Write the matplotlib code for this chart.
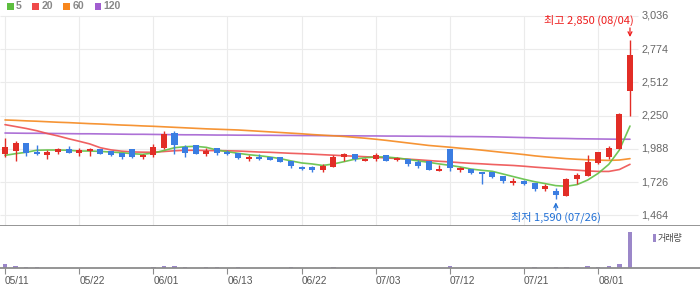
import matplotlib
matplotlib.use('Agg')
import matplotlib.pyplot as plt
from matplotlib.patches import Rectangle

# ---------------- data ----------------
dates = ['05/11', '05/12', '05/15', '05/16', '05/17', '05/18', '05/19', '05/22', '05/23', '05/24',
         '05/25', '05/26', '05/30', '05/31', '06/01', '06/02', '06/05', '06/07', '06/08', '06/09',
         '06/12', '06/13', '06/14', '06/15', '06/16', '06/19', '06/20', '06/21', '06/22', '06/23',
         '06/26', '06/27', '06/28', '06/29', '06/30', '07/03', '07/04', '07/05', '07/06', '07/07',
         '07/10', '07/11', '07/12', '07/13', '07/14', '07/17', '07/18', '07/19', '07/20', '07/21',
         '07/24', '07/25', '07/26', '07/27', '07/28', '07/31', '08/01', '08/02', '08/03', '08/04']

opens = [1950, 1974, 2034, 1961, 1942, 1961, 1987, 1958, 1974, 1987,
         1971, 1955, 1987, 1926, 1942, 1995, 2113, 2003, 2019, 1950,
         1995, 1966, 1955, 1911, 1926, 1926, 1924, 1895, 1848, 1848,
         1824, 1848, 1924, 1948, 1895, 1911, 1940, 1903, 1911, 1887,
         1895, 1816, 1987, 1824, 1832, 1808, 1808, 1777, 1722, 1737,
         1722, 1674, 1658, 1619, 1753, 1777, 1879, 1926, 1990, 2447]
highs = [2074, 2052, 2034, 2019, 1977, 1995, 2011, 1993, 1993, 1987,
         1971, 1955, 1987, 1950, 2026, 2129, 2129, 2019, 2019, 1993,
         1995, 1979, 1955, 1942, 1947, 1926, 1924, 1895, 1853, 1855,
         1869, 1940, 1955, 1948, 1918, 1955, 1940, 1924, 1911, 1900,
         1895, 1861, 1987, 1848, 1832, 1808, 1808, 1777, 1756, 1745,
         1722, 1714, 1682, 1761, 1795, 1942, 1961, 2011, 2270, 2850]
lows = [1926, 1895, 1934, 1942, 1911, 1950, 1958, 1932, 1932, 1950,
        1934, 1911, 1918, 1911, 1926, 1990, 1950, 1926, 1950, 1934,
        1942, 1942, 1911, 1895, 1903, 1899, 1887, 1840, 1819, 1808,
        1808, 1845, 1895, 1895, 1895, 1895, 1895, 1895, 1855, 1840,
        1824, 1816, 1816, 1808, 1790, 1711, 1761, 1722, 1706, 1706,
        1658, 1658, 1590, 1619, 1709, 1777, 1866, 1911, 1990, 2251]
closes = [2003, 2034, 1955, 1948, 1963, 1987, 1958, 1979, 1987, 1950,
          1942, 1922, 1926, 1942, 1999, 2105, 2016, 1958, 1950, 1974,
          1958, 1948, 1918, 1926, 1911, 1903, 1887, 1851, 1832, 1824,
          1853, 1924, 1948, 1911, 1911, 1940, 1895, 1918, 1871, 1855,
          1824, 1832, 1840, 1840, 1800, 1792, 1769, 1737, 1737, 1714,
          1674, 1698, 1627, 1753, 1780, 1887, 1961, 1995, 2263, 2728]
volumes = [43, 23, 13, 13, 1, 1, 1, 1, 1, 1,
           1, 1, 1, 1, 13, 23, 23, 13, 2, 13,
           13, 2, 13, 2, 2, 2, 2, 13, 2, 2,
           2, 13, 2, 2, 2, 2, 2, 2, 2, 2,
           2, 2, 27, 2, 2, 2, 2, 2, 2, 2,
           13, 2, 13, 13, 2, 27, 13, 27, 47, 363]

ma5 = [1937, 1950, 1961, 1977, 1979, 1979, 1977, 1971, 1971, 1968,
       1963, 1958, 1950, 1945, 1955, 1975, 1997, 2005, 2008, 2000,
       1979, 1966, 1953, 1942, 1934, 1924, 1911, 1893, 1877, 1869,
       1857, 1869, 1887, 1906, 1918, 1924, 1924, 1916, 1906, 1893,
       1882, 1869, 1858, 1845, 1829, 1819, 1811, 1790, 1769, 1748,
       1729, 1714, 1698, 1693, 1706, 1742, 1795, 1866, 1979, 2168]
ma20 = [2179, 2164, 2149, 2131, 2109, 2090, 2068, 2048, 2027, 1997,
        1980, 1970, 1964, 1962, 1961, 1967, 1973, 1977, 1977, 1975,
        1974, 1973, 1971, 1967, 1963, 1961, 1957, 1953, 1950, 1946,
        1942, 1938, 1934, 1930, 1926, 1922, 1916, 1912, 1907, 1902,
        1896, 1890, 1885, 1879, 1874, 1870, 1865, 1861, 1857, 1851,
        1844, 1838, 1832, 1825, 1820, 1814, 1810, 1810, 1825, 1866]
ma60 = [2216, 2213, 2209, 2206, 2202, 2198, 2195, 2191, 2187, 2184,
        2180, 2176, 2173, 2169, 2166, 2162, 2158, 2154, 2150, 2146,
        2143, 2140, 2137, 2132, 2127, 2122, 2117, 2112, 2107, 2101,
        2096, 2091, 2086, 2079, 2072, 2064, 2055, 2045, 2035, 2025,
        2015, 2008, 2001, 1993, 1986, 1978, 1969, 1960, 1952, 1943,
        1933, 1925, 1918, 1911, 1906, 1902, 1899, 1897, 1900, 1911]
ma120 = [2113, 2112, 2111, 2111, 2110, 2109, 2108, 2107, 2107, 2106,
         2105, 2104, 2103, 2103, 2102, 2101, 2100, 2099, 2099, 2098,
         2097, 2097, 2096, 2096, 2095, 2095, 2094, 2094, 2093, 2093,
         2092, 2092, 2091, 2091, 2090, 2090, 2089, 2089, 2088, 2088,
         2087, 2087, 2086, 2085, 2085, 2084, 2083, 2081, 2079, 2077,
         2075, 2072, 2071, 2070, 2068, 2067, 2066, 2065, 2064, 2064]

price_ticks = [1464, 1726, 1988, 2250, 2512, 2774, 3036]
tick_step = 7
legend_labels = ['5', '20', '60', '120']
high_label = '최고 2,850 (08/04)'
low_label = '최저 1,590 (07/26)'
volume_label = '거래량'
high_idx, high_val = 59, 2850
low_idx, low_val = 52, 1590

# ---------------- style ----------------
W, H = 700, 289
UP = '#e22d26'
DOWN = '#3a7de2'
MA_COLORS = ['#62c045', '#ee5050', '#f5891f', '#a462d2']
LEG_COLORS = ['#5dbe3f', '#ef4a4a', '#f7861c', '#a15dd0']
GRID = '#ebebeb'
AXIS = '#8c8c8c'
VOL = '#9b87c9'
CJK = ['Noto Sans CJK KR', 'DejaVu Sans']

fig = plt.figure(figsize=(W / 100, H / 100), dpi=100)

def fx(px):
    return px / W

def fy(py):
    return 1 - py / H

n = len(dates)
x = list(range(n))
xl = (-0.472, 65.61)

# price panel: from y=16px to y=225.7px
ax = fig.add_axes([0, fy(225.7), 1, (225.7 - 16) / H])
ax.set_xlim(*xl)
ax.set_ylim(1382, 3036)
ax.set_xticks([])
ax.set_yticks([])
for s in ['top', 'left', 'right']:
    ax.spines[s].set_visible(False)
ax.spines['bottom'].set_color(AXIS)
ax.spines['bottom'].set_linewidth(1.3)
ax.spines['bottom'].set_zorder(10)

tick_idx = list(range(0, n, tick_step))
ax.hlines(price_ticks, xl[0], 59.76, color=GRID, lw=0.8, zorder=0, clip_on=False)
ax.vlines(tick_idx, 1382, 3036, color=GRID, lw=0.8, zorder=0, clip_on=False)

for v in price_ticks:
    ax.text(60.05, v, f'{v:,}', ha='left', va='center', fontsize=7.8,
            color='#666666', family='Liberation Sans', clip_on=False)

# moving averages (drawn behind candles)
for series, col in zip([ma120, ma60, ma20, ma5], MA_COLORS[::-1]):
    ax.plot(x, series, color=col, lw=1.2, zorder=2, alpha=0.9, solid_capstyle='round')

# candles
for i in range(n):
    o, h, l, c = opens[i], highs[i], lows[i], closes[i]
    col = UP if c >= o else DOWN
    ax.vlines(i, l, h, color=col, lw=1.0, zorder=3)
    bottom = min(o, c)
    height = max(abs(c - o), 8)
    ax.bar(i, height, bottom=bottom, width=0.57, color=col, zorder=4, linewidth=0)

# high / low annotations
RED_T = '#ee1c1c'
BLUE_T = '#1f6fd6'
ax.annotate('', xy=(high_idx, high_val + 20), xytext=(high_idx, 2942),
            arrowprops=dict(arrowstyle='->', color=RED_T, lw=0.9, shrinkA=0, shrinkB=0,
                            mutation_scale=7), annotation_clip=False, zorder=6)
ax.text(59.38, 2999, high_label, ha='right', va='center', fontsize=8,
        color=RED_T, family=CJK, clip_on=False)
ax.annotate('', xy=(low_idx, low_val - 24), xytext=(low_idx, 1503),
            arrowprops=dict(arrowstyle='->', color=BLUE_T, lw=0.9, shrinkA=0, shrinkB=0,
                            mutation_scale=7), annotation_clip=False, zorder=6)
ax.text(low_idx + 0.05, 1448, low_label, ha='center', va='center', fontsize=8,
        color=BLUE_T, family=CJK, clip_on=False)

# volume panel: from y=225.7px to y=268.3px
vax = fig.add_axes([0, fy(268.3), 1, (268.3 - 225.7) / H])
vax.set_xlim(*xl)
vax.set_ylim(0, 426)
vax.bar(x, volumes, width=0.42, color=VOL, linewidth=0)
vax.set_yticks([])
for s in ['top', 'left', 'right']:
    vax.spines[s].set_visible(False)
vax.spines['bottom'].set_color(AXIS)
vax.spines['bottom'].set_linewidth(1.3)
vax.set_xticks(tick_idx)
vax.set_xticklabels([dates[i] for i in tick_idx], family='Liberation Sans')
vax.tick_params(axis='x', length=4, width=0.8, color=AXIS, pad=1.5,
                labelsize=7.3, labelcolor='#555555')
for lbl in vax.get_xticklabels():
    lbl.set_horizontalalignment('left')

# volume legend
fig.add_artist(Rectangle((fx(652.7), fy(241.5)), fx(3), 7.5 / H, transform=fig.transFigure,
                         color=VOL, linewidth=0))
fig.text(fx(658), fy(238), volume_label, ha='left', va='center', fontsize=6.5,
         color='#444444', family=CJK)

# top legend
sq_x = [7.3, 32.3, 63.3, 94.7]
tx_x = [16.0, 41.2, 72.2, 103.8]
for lab, col, sx, tx in zip(legend_labels, LEG_COLORS, sq_x, tx_x):
    fig.add_artist(Rectangle((fx(sx), fy(9.5)), fx(6.5), 6.5 / H, transform=fig.transFigure,
                             color=col, linewidth=0))
    fig.text(fx(tx), fy(6.2), lab, ha='left', va='center', fontsize=7.6,
             color='#888888', family='Liberation Sans', fontweight='bold')

fig.savefig('out.png', dpi=100)
